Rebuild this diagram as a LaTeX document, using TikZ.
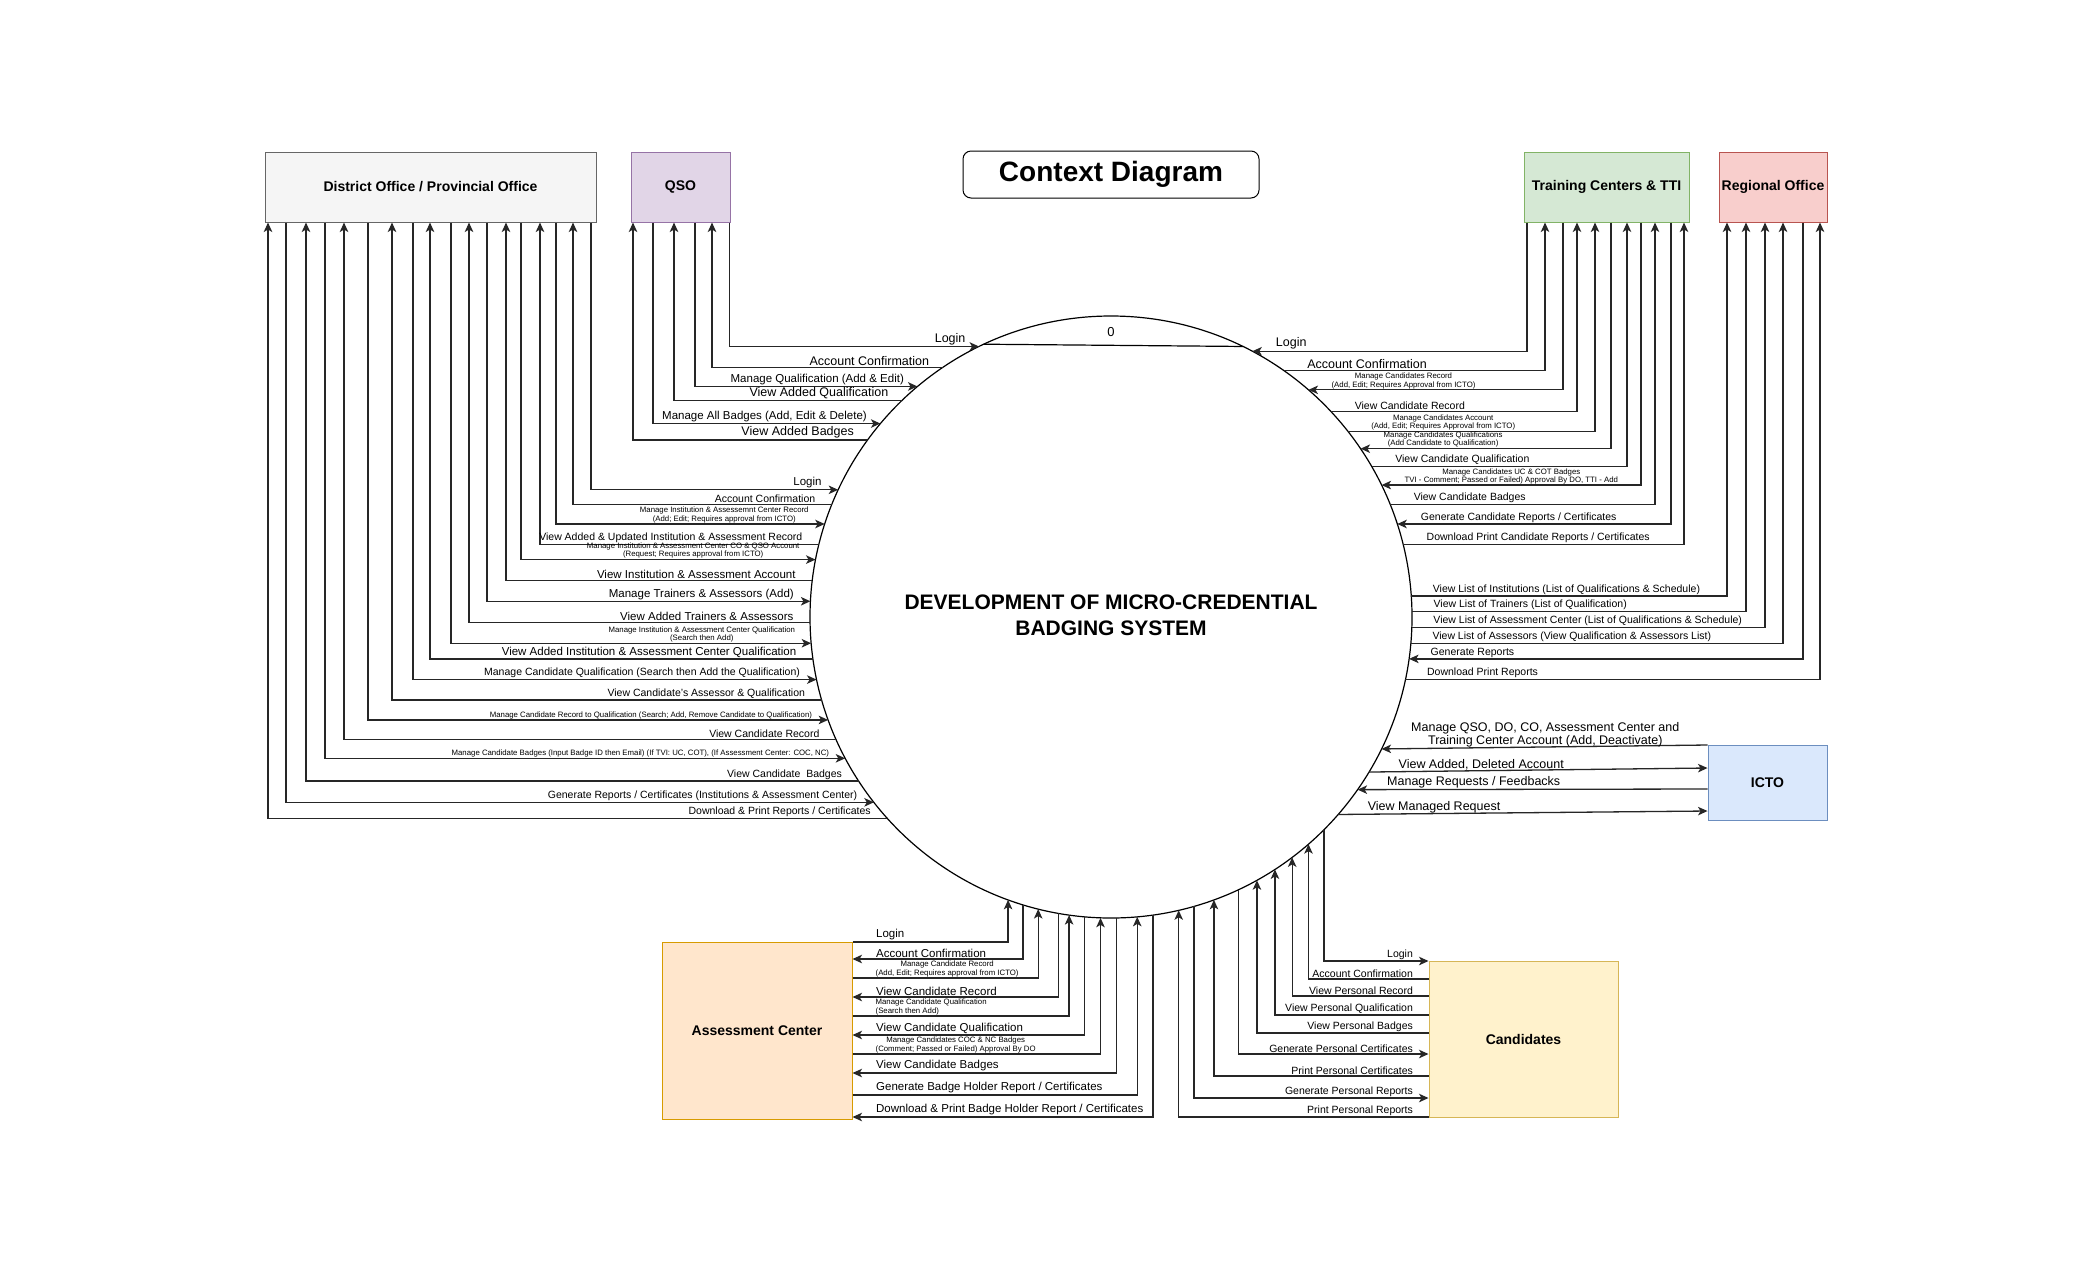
\documentclass[tikz,border=0pt]{standalone}
\usepackage{fontspec}
\setmainfont{Liberation Sans}
\usetikzlibrary{arrows.meta}

\definecolor{dofill}{HTML}{F5F5F5}
\definecolor{dodraw}{HTML}{666666}
\definecolor{qsofill}{HTML}{E1D5E7}
\definecolor{qsodraw}{HTML}{9673A6}
\definecolor{tcfill}{HTML}{D5E8D4}
\definecolor{tcdraw}{HTML}{82B366}
\definecolor{rofill}{HTML}{F8CECC}
\definecolor{rodraw}{HTML}{B85450}
\definecolor{ictofill}{HTML}{DAE8FC}
\definecolor{ictodraw}{HTML}{6C8EBF}
\definecolor{acfill}{HTML}{FFE6CC}
\definecolor{acdraw}{HTML}{D79B00}
\definecolor{candfill}{HTML}{FFF2CC}
\definecolor{canddraw}{HTML}{D6B656}

\tikzset{
  ent/.style={draw, line width=1pt, inner sep=0pt, font=\fontsize{14}{16}\selectfont\bfseries},
  flow/.style={line width=1.3pt, draw=black!85},
  tosys/.style={-{Stealth[length=9.5pt,width=8.5pt,inset=2.5pt]}},
  fromsys/.style={{Stealth[length=9.5pt,width=8.5pt,inset=2.5pt]}-},
  lbl/.style={font=\fontsize{10.5}{12}\selectfont, inner sep=1pt},
  lblm/.style={font=\fontsize{11.5}{13}\selectfont, inner sep=1pt},
  lblbig/.style={font=\fontsize{12.5}{13}\selectfont, inner sep=1pt, align=center},
  lblsm/.style={font=\fontsize{7.8}{7}\selectfont, inner sep=0.5pt, align=center},
  lblsml/.style={font=\fontsize{7.8}{7}\selectfont, inner sep=0.5pt, align=left},
}

\begin{document}
\begin{tikzpicture}[x=1pt, y=-1pt]

\fill[white] (0,0) rectangle (2100,1275);
\useasboundingbox (0,0) rectangle (2100,1275);

\node[draw, rounded corners=8pt, line width=1pt, minimum width=296pt, minimum height=47pt,
  font=\fontsize{28}{30}\selectfont\bfseries] (title) at (1111,174.5) {Context Diagram};

\node[ent, fill=dofill, draw=dodraw, minimum width=331pt, minimum height=70pt] (do) at (430.5,187) {District Office / Provincial Office};
\node[ent, fill=qsofill, draw=qsodraw, minimum width=99pt, minimum height=70pt] (qso) at (680.5,187) {QSO};
\node[ent, fill=tcfill, draw=tcdraw, minimum width=165pt, minimum height=70pt] (tc) at (1606.5,187) {Training Centers \& TTI};
\node[ent, fill=rofill, draw=rodraw, minimum width=108pt, minimum height=70pt] (ro) at (1773,187) {Regional Office};
\node[ent, fill=ictofill, draw=ictodraw, minimum width=119pt, minimum height=75pt] (icto) at (1767.5,782.5) {ICTO};
\node[ent, fill=acfill, draw=acdraw, minimum width=190pt, minimum height=177pt] (ac) at (757,1030.5) {Assessment Center};
\node[ent, fill=candfill, draw=canddraw, minimum width=189pt, minimum height=156pt] (cand) at (1523.5,1039) {Candidates};

\node[circle, draw, line width=1.2pt, minimum size=602pt, inner sep=0pt, outer sep=0pt] (sys) at (1111,617) {};
\node[align=center, font=\fontsize{21}{26}\selectfont\bfseries] (sysname) at (1111,615) {DEVELOPMENT OF MICRO-CREDENTIAL\\BADGING SYSTEM};
\pgfmathsetmacro\chl{180-asin(272/301)}
\pgfmathsetmacro\chr{asin(272/301)}
\draw[line width=1.2pt] (sys.\chl) -- (sys.\chr);
\node[font=\fontsize{13}{14}\selectfont] (pid) at (1111,332) {0};

\foreach \x/\y/\dir/\sty/\txt in {
591/492/tosys/lblm/{Login}%
,573/509/fromsys/lbl/{Account Confirmation}%
,556/528/tosys/lblsm/{Manage Institution \& Assessemnt Center Record\\(Add; Edit; Requires approval from ICTO)}%
,540/546/fromsys/lbl/{View Added \& Updated Institution \& Assessment Record}%
,521/563/tosys/lblsm/{Manage Institution \& Assessment Center CO \& QSO Account\\(Request; Requires approval from ICTO)}%
,506/583/fromsys/lblm/{View Institution \& Assessment Account}%
,487/604/tosys/lblm/{Manage Trainers \& Assessors (Add)}%
,469/624/fromsys/lblm/{View Added Trainers \& Assessors}%
,451/646/tosys/lblsm/{Manage Institution \& Assessment Center Qualification\\(Search then Add)}%
,430/664/fromsys/lblm/{View Added Institution \& Assessment Center Qualification}%
,413/683/tosys/lbl/{Manage Candidate Qualification (Search then Add the Qualification)}%
,392/702/fromsys/lbl/{View Candidate's Assessor \& Qualification}%
,368/723/tosys/lblsm/{Manage Candidate Record to Qualification (Search; Add, Remove Candidate to Qualification)}%
,344/743/fromsys/lbl/{View Candidate Record}%
,325/762/tosys/lblsm/{Manage Candidate Badges (Input Badge ID then Email) (If TVI: UC, COT), (If Assessment Center: COC, NC)}%
,306/781/fromsys/lbl/{View Candidate\ \ Badges}%
,286/803/tosys/lbl/{Generate Reports / Certificates (Institutions \& Assessment Center)}%
,268/822/fromsys/lbl/{Download \& Print Reports / Certificates}%
}{
	\pgfmathsetmacro\ang{180-asin((617-\y)/301)}
	\draw[flow,\dir] (do.south -| \x,0) |- (sys.\ang) node[\sty, anchor=south east, xshift=-15pt] {\txt};
}

\foreach \x/\y/\dir/\sty/\txt in {
729.5/348/tosys/lblbig/{Login}%
,712/368/fromsys/lblbig/{Account Confirmation}%
,695/387/tosys/lblm/{Manage Qualification (Add \& Edit)}%
,674/404/fromsys/lblbig/{View Added Qualification}%
,653/424/tosys/lblm/{Manage All Badges (Add, Edit \& Delete)}%
,633/443/fromsys/lblbig/{View Added Badges}%
}{
	\pgfmathsetmacro\ang{180-asin((617-\y)/301)}
	\draw[flow,\dir] (qso.south -| \x,0) |- (sys.\ang) node[\sty, anchor=south east, xshift=-12pt] {\txt};
}

\foreach \x/\y/\dir/\sty/\txt in {
1527/350/tosys/lblbig/{Login}%
,1545/370/fromsys/lblbig/{Account Confirmation}%
,1563/389/tosys/lblsm/{Manage Candidates Record\\(Add, Edit; Requires Approval from ICTO)}%
,1577/409/fromsys/lbl/{View Candidate Record}%
,1595/428/fromsys/lblsm/{Manage Candidates Account\\(Add, Edit; Requires Approval from ICTO)}%
,1611/447/tosys/lblsm/{Manage Candidates Qualifications\\(Add Candidate to Qualification)}%
,1627/466/fromsys/lbl/{View Candidate Qualification}%
,1641/483/tosys/lblsm/{Manage Candidates UC \& COT Badges\\TVI - Comment; Passed or Failed) Approval By DO, TTI - Add}%
,1655/502/fromsys/lbl/{View Candidate Badges}%
,1671/523/tosys/lbl/{Generate Candidate Reports / Certificates}%
,1684/542/fromsys/lbl/{Download Print Candidate Reports / Certificates}%
}{
	\pgfmathsetmacro\ang{asin((617-\y)/301)}
	\draw[flow,\dir] (tc.south -| \x,0) |- (sys.\ang) node[\sty, anchor=south west, xshift=22pt] {\txt};
}

\foreach \x/\y/\dir/\sty/\txt in {
1727/591/fromsys/lbl/{View List of Institutions (List of Qualifications \& Schedule)}%
,1746/610/fromsys/lbl/{View List of Trainers (List of Qualification)}%
,1765/628/fromsys/lbl/{View List of Assessment Center (List of Qualifications \& Schedule)}%
,1783/645/fromsys/lbl/{View List of Assessors (View Qualification \& Assessors List)}%
,1803/663/tosys/lbl/{Generate Reports}%
,1820/680/fromsys/lbl/{Download Print Reports}%
}{
	\pgfmathsetmacro\ang{asin((617-\y)/301)}
	\draw[flow,\dir] (ro.south -| \x,0) |- (sys.\ang) node[\sty, anchor=south west, xshift=20pt] {\txt};
}

\foreach \y/\dir/\sty/\txt in {
745/tosys/lblbig/{Manage QSO, DO, CO, Assessment Center and\\Training Center Account (Add, Deactivate)}%
,768/fromsys/lblbig/{View Added, Deleted Account}%
,789/tosys/lblbig/{Manage Requests / Feedbacks}%
,811/fromsys/lblbig/{View Managed Request}%
}{
	\pgfmathsetmacro\ang{360+asin((617-\y)/301)}
	\draw[flow,\dir] (icto.west |- 0,\y) -- (sys.\ang) node[\sty, anchor=south west, xshift=28pt] {\txt};
}

\foreach \x/\y/\dir/\sty/\txt in {
1010/942/tosys/lblm/{Login}%
,1028/959/fromsys/lblm/{Account Confirmation}%
,1043/978/tosys/lblsm/{Manage Candidate Record\\(Add, Edit; Requires approval from ICTO)}%
,1059/997/fromsys/lblm/{View Candidate Record}%
,1074/1016/tosys/lblsml/{Manage Candidate Qualification\\(Search then Add)}%
,1088/1035/fromsys/lblm/{View Candidate Qualification}%
,1104/1054/tosys/lblsm/{Manage Candidates COC \& NC Badges\\(Comment; Passed or Failed) Approval By DO}%
,1121/1073/fromsys/lblm/{View Candidate Badges}%
,1138/1095/tosys/lblm/{Generate Badge Holder Report / Certificates}%
,1157/1117/fromsys/lblm/{Download \& Print Badge Holder Report / Certificates}%
}{
	\pgfmathsetmacro\ang{360-acos((\x-1111)/301)}
	\draw[flow,\dir] (ac.east |- 0,\y) node[\sty, anchor=south west, xshift=22pt] {\txt} -| (sys.\ang);
}

\foreach \x/\y/\dir/\sty/\txt in {
1324/961/fromsys/lbl/{Login}%
,1309/979/tosys/lbl/{Account Confirmation}%
,1294/996/tosys/lbl/{View Personal Record}%
,1275/1015/tosys/lbl/{View Personal Qualification}%
,1257/1033/tosys/lbl/{View Personal Badges}%
,1239/1054/fromsys/lbl/{Generate Personal Certificates}%
,1218/1076/tosys/lbl/{Print Personal Certificates}%
,1199/1098/fromsys/lbl/{Generate Personal Reports}%
,1180/1117/tosys/lbl/{Print Personal Reports}%
}{
	\pgfmathsetmacro\ang{360-acos((\x-1111)/301)}
	\draw[flow,\dir] (cand.west |- 0,\y) node[\sty, anchor=south east, xshift=-14pt] {\txt} -| (sys.\ang);
}

\end{tikzpicture}
\end{document}
